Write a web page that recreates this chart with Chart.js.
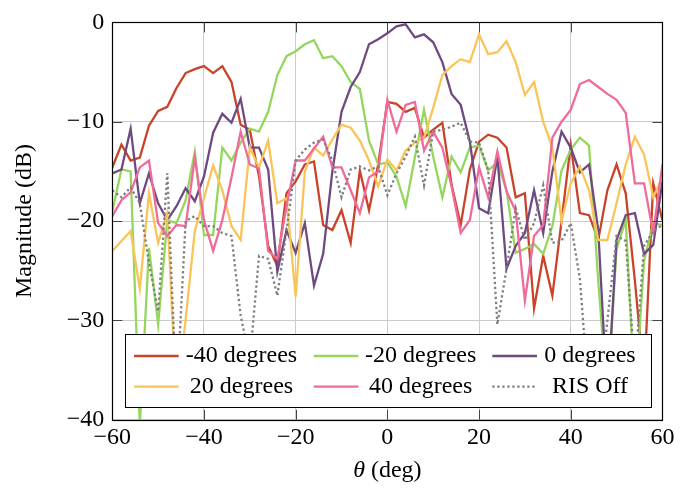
<!DOCTYPE html>
<html><head><meta charset="utf-8">
<script src="https://cdn.jsdelivr.net/npm/chart.js@4.4.1/dist/chart.umd.min.js"></script>
<style>html,body{margin:0;padding:0;background:#fff;}canvas{display:block;}</style>
</head><body>
<canvas id="c" width="691" height="493"></canvas>
<script>
// ---- data ----
const thetaDeg = [-60,-58,-56,-54,-52,-50,-48,-46,-44,-42,-40,-38,-36,-34,-32,-30,-28,-26,-24,-22,-20,-18,-16,-14,-12,-10,-8,-6,-4,-2,0,2,4,6,8,10,12,14,16,18,20,22,24,26,28,30,32,34,36,38,40,42,44,46,48,50,52,54,56,58,60];

const minus40 = [-14.6,-12.3,-13.9,-13.6,-10.4,-8.9,-8.5,-6.6,-5.1,-4.7,-4.4,-5.1,-4.4,-6.0,-10.3,-10.8,-15.5,-22.5,-24.5,-17.2,-16.0,-14.3,-14.0,-20.4,-20.9,-18.9,-22.2,-14.9,-18.9,-14.3,-8.0,-8.2,-9.0,-8.6,-11.6,-10.8,-10.1,-16.3,-20.4,-14.8,-12.0,-11.3,-11.6,-12.6,-17.6,-17.2,-28.8,-23.5,-27.5,-20.0,-12.3,-19.2,-19.4,-21.9,-16.9,-14.3,-17.2,-26.0,-36.0,-16.2,-19.9];

const minus20 = [-19.0,-14.8,-15.0,-40.5,-22.7,-30.4,-19.9,-20.2,-17.9,-13.0,-21.4,-21.4,-12.6,-13.9,-12.1,-10.7,-11.0,-9.0,-5.3,-3.4,-2.9,-2.2,-1.8,-3.6,-3.4,-4.4,-6.0,-6.7,-11.9,-14.3,-14.1,-15.5,-18.5,-13.6,-8.8,-13.5,-17.6,-13.5,-15.1,-12.6,-12.4,-14.9,-14.1,-16.9,-23.2,-22.8,-22.3,-23.3,-20.5,-14.9,-12.8,-11.6,-12.4,-26.0,-38.0,-22.8,-19.9,-38.0,-24.0,-20.2,-20.4];

const zero = [-15.2,-14.8,-10.7,-18.2,-15.2,-18.2,-19.9,-18.5,-16.7,-18.0,-15.5,-11.1,-9.2,-10.1,-7.7,-12.6,-12.6,-14.8,-25.1,-20.9,-23.2,-20.2,-26.5,-23.3,-15.0,-9.0,-6.5,-5.0,-2.2,-1.7,-1.1,-0.4,-0.2,-1.5,-1.2,-2.0,-4.0,-7.2,-8.3,-12.0,-18.7,-19.2,-13.5,-24.8,-22.5,-21.2,-16.9,-21.2,-15.0,-11.0,-12.6,-15.1,-14.3,-20.9,-38.0,-21.9,-19.4,-19.2,-23.3,-22.4,-16.0];

const plus20 = [-23.0,-22.0,-21.0,-26.8,-17.2,-22.2,-19.2,-38.0,-29.9,-21.0,-17.7,-14.4,-16.9,-20.5,-21.9,-12.6,-14.6,-11.9,-18.2,-17.7,-27.6,-15.0,-12.6,-13.4,-11.8,-10.3,-10.6,-11.9,-13.9,-16.5,-13.8,-14.9,-12.9,-12.1,-11.6,-8.6,-5.3,-4.4,-3.7,-4.0,-1.2,-3.2,-3.0,-1.9,-4.0,-7.3,-6.0,-10.0,-12.6,-20.0,-16.2,-14.5,-16.9,-21.9,-21.9,-18.2,-14.3,-11.5,-13.3,-17.6,-15.6];

const plus40 = [-19.5,-17.9,-17.1,-14.6,-13.9,-20.2,-21.5,-20.4,-20.5,-13.6,-19.9,-23.0,-19.9,-15.6,-11.0,-14.3,-14.7,-23.0,-23.8,-18.5,-13.9,-13.9,-12.7,-11.5,-14.6,-14.6,-16.9,-19.2,-15.6,-15.0,-7.8,-11.0,-8.3,-8.0,-12.9,-11.0,-12.6,-16.5,-21.2,-19.9,-14.6,-17.6,-13.0,-17.0,-19.0,-28.0,-21.5,-20.4,-11.6,-10.0,-8.8,-6.2,-5.8,-6.5,-7.2,-7.8,-9.1,-16.2,-16.2,-21.2,-14.3];

const risOff = [-16.9,-17.6,-16.6,-18.2,-24.2,-29.1,-15.2,-38.0,-20.0,-19.5,-20.5,-20.5,-21.2,-21.5,-29.5,-34.0,-23.5,-23.8,-27.5,-21.0,-13.9,-12.8,-12.1,-11.8,-13.9,-17.6,-14.8,-14.5,-14.9,-14.5,-17.4,-15.2,-13.5,-11.5,-16.4,-11.0,-10.8,-10.5,-10.1,-12.0,-12.1,-14.9,-30.4,-24.8,-18.7,-21.9,-20.2,-16.4,-22.2,-22.0,-20.2,-25.8,-38.0,-38.0,-30.0,-21.5,-22.0,-35.0,-22.5,-21.0,-20.4];

const seriesLabels = ['-40 degrees','-20 degrees','0 degrees','20 degrees','40 degrees','RIS Off'];
const xTickValues = [-60,-40,-20,0,20,40,60];
const yTickValues = [-40,-30,-20,-10,0];

// ---- styling ----
const colors = ['#c9432a','#95d65c','#6e4a80','#f9c459','#ee6b9a','#7f7f7f'];
const dashes = [[],[],[],[],[],[2.3,2.7]];
const allSeries = [minus40, minus20, zero, plus20, plus40, risOff];
const FONT = "'Liberation Serif', 'Times New Roman', serif";
const LW = 2.3;

function fmt(v){ return v < 0 ? '\u2212' + Math.abs(v) : String(v); }

const datasets = allSeries.map((vals, k) => ({
  label: seriesLabels[k],
  data: thetaDeg.map((t, i) => ({x: t, y: vals[i]})),
  borderColor: colors[k],
  backgroundColor: colors[k],
  borderWidth: LW,
  borderDash: dashes[k],
  pointRadius: 0,
  tension: 0,
  fill: false,
  order: allSeries.length - k
}));

const overlay = {
  id: 'overlay',
  afterDraw(chart) {
    const ctx = chart.ctx;
    const a = chart.chartArea;
    const xs = chart.scales.x, ys = chart.scales.y;
    ctx.save();
    // inward tick marks
    ctx.strokeStyle = '#444';
    ctx.lineWidth = 1;
    ctx.beginPath();
    xTickValues.forEach(v => {
      const px = Math.round(xs.getPixelForValue(v)) + 0.5;
      ctx.moveTo(px, a.top); ctx.lineTo(px, a.top + 10);
      ctx.moveTo(px, a.bottom); ctx.lineTo(px, a.bottom - 10);
    });
    yTickValues.forEach(v => {
      const py = Math.round(ys.getPixelForValue(v)) + 0.5;
      ctx.moveTo(a.left, py); ctx.lineTo(a.left + 10, py);
      ctx.moveTo(a.right, py); ctx.lineTo(a.right - 10, py);
    });
    ctx.stroke();
    // frame
    ctx.strokeStyle = '#000';
    ctx.lineWidth = 1.2;
    ctx.strokeRect(Math.round(a.left)+0.5, Math.round(a.top)+0.5, Math.round(a.right)-Math.round(a.left), Math.round(a.bottom)-Math.round(a.top));

    // legend
    const bx = a.left + 12.4, by = a.bottom - 85.5, bw = 526, bh = 72.7;
    ctx.fillStyle = '#fff';
    ctx.fillRect(bx, by, bw, bh);
    ctx.strokeStyle = '#000';
    ctx.lineWidth = 1;
    ctx.strokeRect(Math.round(bx)+0.5, Math.round(by)+0.5, Math.round(bw), Math.round(bh));
    const colLine = [9.3, 189, 367.6];
    const colText = [116.8, 296, 465.3];
    const rowLine = [21.7, 52.4];
    const rowBase = [27.4, 58.4];
    ctx.font = '24px ' + FONT;
    ctx.textAlign = 'center';
    ctx.textBaseline = 'alphabetic';
    seriesLabels.forEach((lab, k) => {
      const c = k % 3, r = Math.floor(k / 3);
      ctx.beginPath();
      ctx.strokeStyle = colors[k];
      ctx.lineWidth = LW;
      ctx.setLineDash(dashes[k]);
      ctx.moveTo(bx + colLine[c], by + rowLine[r]);
      ctx.lineTo(bx + colLine[c] + 44.7, by + rowLine[r]);
      ctx.stroke();
      ctx.setLineDash([]);
      ctx.fillStyle = '#000';
      ctx.fillText(lab, bx + colText[c], by + rowBase[r]);
    });

    // x axis title: italic theta + " (deg)"
    const cx = (a.left + a.right) / 2;
    const t1 = '\u03B8', t2 = ' (deg)';
    ctx.font = 'italic 24px ' + FONT;
    const w1 = ctx.measureText(t1).width;
    ctx.font = '24px ' + FONT;
    const w2 = ctx.measureText(t2).width;
    const sx = cx - (w1 + w2) / 2;
    ctx.textAlign = 'left';
    ctx.fillStyle = '#000';
    ctx.font = 'italic 24px ' + FONT;
    ctx.fillText(t1, sx, 476.5);
    ctx.font = '24px ' + FONT;
    ctx.fillText(t2, sx + w1, 476.5);
    ctx.restore();
  }
};

new Chart(document.getElementById('c'), {
  type: 'line',
  data: { datasets },
  options: {
    responsive: false,
    animation: false,
    events: [],
    layout: { padding: { top: 16, right: 28.6, left: 0, bottom: 0 } },
    plugins: { legend: { display: false }, tooltip: { enabled: false } },
    scales: {
      x: {
        type: 'linear', min: -60, max: 60,
        afterBuildTicks: s => { s.ticks = xTickValues.map(v => ({value: v})); },
        afterFit: s => { s.height = 73.2; },
        grid: { color: '#cbcbcb', lineWidth: 1, drawTicks: false },
        border: { display: false },
        ticks: { color: '#000', padding: 3.7, maxRotation: 0, font: { family: FONT, size: 24, lineHeight: 1.2 }, callback: v => fmt(v) },
        title: { display: false }
      },
      y: {
        type: 'linear', min: -40, max: 0,
        afterBuildTicks: s => { s.ticks = yTickValues.map(v => ({value: v})); },
        afterFit: s => { s.width = 112.3; },
        grid: { color: '#cbcbcb', lineWidth: 1, drawTicks: false },
        border: { display: false },
        ticks: { color: '#000', padding: 8, font: { family: FONT, size: 24 }, callback: v => fmt(v) },
        title: { display: true, text: 'Magnitude (dB)', color: '#000', padding: { top: 10.6, bottom: 0 }, font: { family: FONT, size: 24, lineHeight: 1.2 } }
      }
    }
  },
  plugins: [overlay]
});
</script>
</body></html>
